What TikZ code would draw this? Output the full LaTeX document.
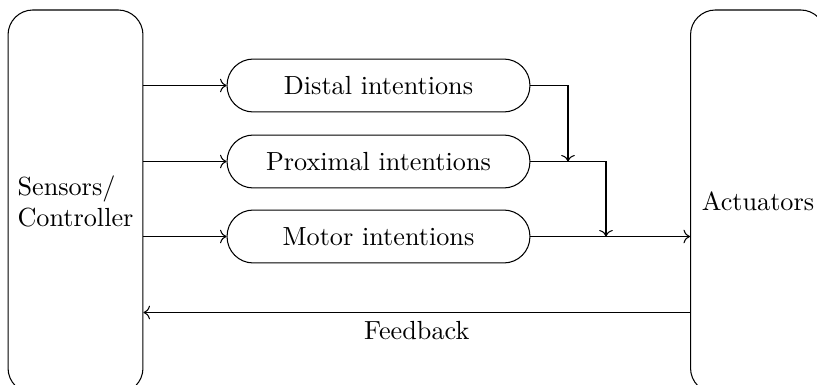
\documentclass[tikz,border=0pt]{standalone}
\usetikzlibrary{arrows.meta}
\begin{document}
\begin{tikzpicture}[x=0.38168pt, y=-0.38168pt,
  bigbox/.style={draw, rounded corners=9.5pt, minimum width=51.5pt, minimum height=146.2pt, align=left, inner sep=0pt},
  intent/.style={draw, rounded corners=10pt, minimum width=115.6pt, minimum height=20.2pt, inner sep=0pt},
  flow/.style={->}]
  \clip (0,0) rectangle (817,384);

  % side blocks
  \node[bigbox] (S) at (75.5,201.5) {Sensors/\\Controller};
  \node[bigbox] (A) at (758,201.5) {Actuators};

  % intention levels
  \node[intent] (D) at (378.5,85.5) {Distal intentions};
  \node[intent] (P) at (378.5,161.5) {Proximal intentions};
  \node[intent] (M) at (378.5,236.5) {Motor intentions};

  % junction points and feedback level
  \coordinate (j1) at (568,161.5);
  \coordinate (j2) at (606,236.5);
  \coordinate (fb) at (416,312.5);

  % controller to intentions
  \draw[flow] (S.east |- D.west) -- (D.west);
  \draw[flow] (S.east |- P.west) -- (P.west);
  \draw[flow] (S.east |- M.west) -- (M.west);

  % cascade towards the actuators
  \draw[flow] (D.east) -| (j1);
  \draw[flow] (P.east) -| (j2);
  \draw[flow] (M.east) -- (M.east -| A.west);

  % feedback loop
  \draw[flow] (A.west |- fb) -- (S.east |- fb) node[midway, below] {Feedback};
\end{tikzpicture}
\end{document}
